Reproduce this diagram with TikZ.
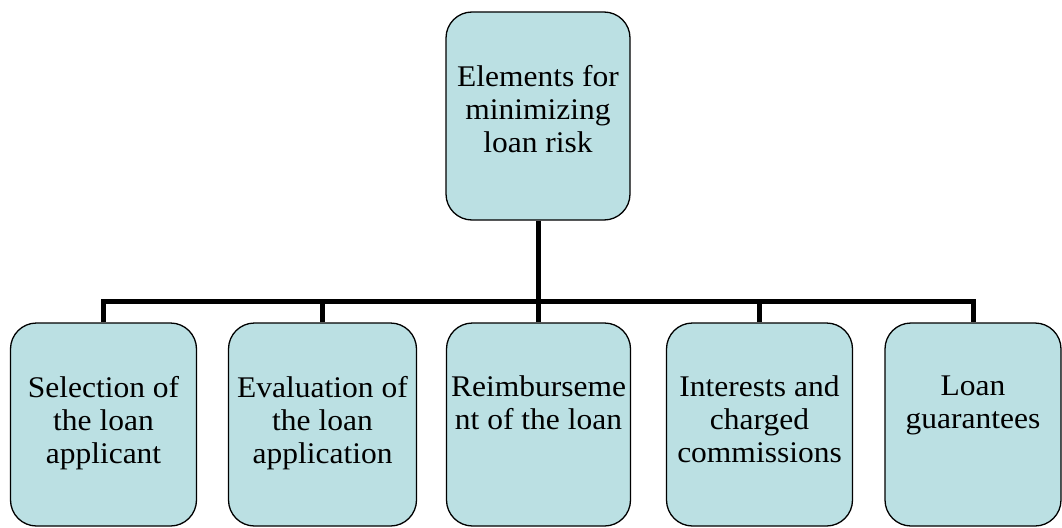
\documentclass[tikz,border=0pt]{standalone}
\usepackage{fontspec}
\setmainfont[FakeStretch=1.05]{Liberation Serif}
\definecolor{boxfill}{RGB}{187,224,227}
\newcommand{\bt}[3]{\parbox[c][#2][t]{#1}{\centering\vspace*{53pt}\fontsize{30}{33}\selectfont #3\par}}
\begin{document}
\begin{tikzpicture}[x=1pt,y=-1pt,
  elem/.style={draw=black, line width=1.3pt, fill=boxfill, rounded corners=26pt, inner sep=0pt},
  conn/.style={draw=black, line width=5pt, line join=miter}]
\useasboundingbox (0,0) rectangle (1062,527);
\node[elem] (top) at (538,116) {\bt{184pt}{208pt}{Elements for\\minimizing\\loan risk}};
\node[elem] (b1) at (103.5,424.5) {\bt{186pt}{203pt}{Selection of\\the loan\\applicant}};
\node[elem] (b2) at (322.5,424.5) {\bt{188pt}{203pt}{Evaluation of\\the loan\\application}};
\node[elem] (b3) at (538.5,424.5) {\bt{184pt}{203pt}{Reimburseme\\nt of the loan}};
\node[elem] (b4) at (759.5,424.5) {\bt{186pt}{203pt}{Interests and\\charged\\commissions}};
\node[elem] (b5) at (973,424.5) {\bt{176pt}{203pt}{Loan\\guarantees}};
\coordinate (bar) at (0,301);
\draw[conn] (top.south) -- (top.south |- bar);
\draw[conn] (b1.north) -- (b1.north |- bar) -- (b5.north |- bar) -- (b5.north);
\draw[conn] (b2.north) -- (b2.north |- bar);
\draw[conn] (b3.north) -- (b3.north |- bar);
\draw[conn] (b4.north) -- (b4.north |- bar);
\end{tikzpicture}
\end{document}
